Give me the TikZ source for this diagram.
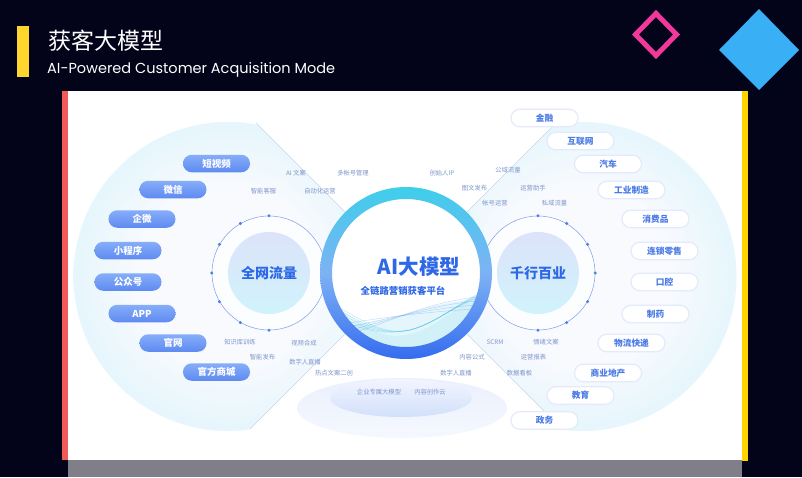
\documentclass[tikz,border=0pt]{standalone}
\usepackage{fontspec}
\setmainfont{Poppins}
\newfontfamily\cjk{Noto Sans CJK SC}

% Colours of the board
\definecolor{night}{HTML}{03031A}
\definecolor{baryellow}{HTML}{FFD62E}
\definecolor{edgeyellow}{HTML}{FFD500}
\definecolor{edgered}{HTML}{F25A5A}
\definecolor{rosepink}{HTML}{F2399B}
\definecolor{skyblue}{HTML}{39B0F6}
\definecolor{band}{HTML}{807F89}
\definecolor{halocore}{HTML}{F9FAFE}
\definecolor{haloedge}{HTML}{E5F6FC}
\definecolor{hintblue}{HTML}{7E95CB}
\definecolor{deepblue}{HTML}{2F68E6}
\definecolor{pillblue}{HTML}{4B7BE6}
\definecolor{pilltop}{HTML}{86ADF9}
\definecolor{pillbot}{HTML}{5E8BF1}
\definecolor{pillrim}{HTML}{E3EAFB}
\definecolor{dotblue}{HTML}{4D7EE8}
\definecolor{ringline}{HTML}{7F9DE6}
\definecolor{sidetop}{HTML}{DCE3FA}
\definecolor{sidebot}{HTML}{D0F3FB}
\definecolor{ringcyan}{HTML}{3FCEEA}
\definecolor{ringmid}{HTML}{7DB2F4}
\definecolor{ringblue}{HTML}{356CEF}
\definecolor{wavecyan}{HTML}{4CC8E6}
\definecolor{plateA}{HTML}{EAF0FD}
\definecolor{plateB}{HTML}{F5F8FE}
\definecolor{plateC}{HTML}{F2F5FE}
\definecolor{plateD}{HTML}{D2E0FB}
\definecolor{cutgray}{HTML}{CCD5EC}

\pgfdeclareradialshading{halo}{\pgfpoint{0bp}{0bp}}{color(0bp)=(halocore); color(14bp)=(halocore); color(25bp)=(haloedge); color(50bp)=(haloedge)}

\tikzset{
  headline/.style={anchor=west, inner sep=0pt, text=white, font=\cjk\fontsize{23}{23}\selectfont},
  subline/.style={anchor=west, inner sep=0pt, text=white, font=\fontsize{14.5}{15}\selectfont},
  hint/.style={inner sep=0pt, text=hintblue, font=\cjk\fontsize{6.3}{7}\selectfont},
  srcpill/.style={rectangle, rounded corners=8.7pt, minimum width=67pt, minimum height=17.5pt, inner sep=0pt,
    top color=pilltop, bottom color=pillbot, text=white, font=\cjk\bfseries\fontsize{9.5}{10}\selectfont},
  tradepill/.style={rectangle, rounded corners=8.7pt, minimum width=67pt, minimum height=17.5pt, inner sep=0pt,
    fill=white, draw=pillrim, line width=1.2pt, text=pillblue, font=\cjk\bfseries\fontsize{8.7}{9}\selectfont},
  sidering/.style={circle, minimum size=114pt, inner sep=0pt, draw=ringline, line width=0.5pt, fill=white, fill opacity=0.6},
  sidecore/.style={circle, minimum size=82pt, inner sep=0pt, top color=sidetop, bottom color=sidebot,
    text=deepblue, font=\cjk\bfseries\fontsize{14}{14}\selectfont},
  cutline/.style={cutgray, line width=0.4pt},
}

\begin{document}
\begin{tikzpicture}[x=1pt, y=-1pt]
  % Page and dark background
  \useasboundingbox (0,0) rectangle (802,477);
  \fill[night] (0,0) rectangle (802,477);

  % Title block
  \fill[baryellow] (17,26) rectangle (29,77);
  \node[headline] (title) at (48,41) {获客大模型};
  \node[subline] (subtitle) at (47,70) {AI-Powered Customer Acquisition Mode};

  % Corner diamonds
  \draw[rosepink, line width=5pt, miter limit=4] (656,13.5) -- (676.5,34.5) -- (656,55.5) -- (635.5,34.5) -- cycle;
  \fill[skyblue] (759,9) -- (799,50) -- (759,90) -- (719,50) -- cycle;

  % White board with coloured edges
  \fill[white] (68,91) rectangle (742,460);
  \fill[edgered] (62,91) rectangle (68,460);
  \fill[edgeyellow] (742,91) rectangle (748,461);
  \fill[band] (68,460) rectangle (742,477);

  % The hub itself, as a named circle
  \node[circle, minimum size=172pt, inner sep=0pt] (core) at (406,273) {};

  % Left and right lobes, cut by the diagonals through the hub
  \begin{scope}
    \clip (68,91) rectangle (742,460);
    \begin{scope}
      \clip (406,273) -- (106,-27) -- (-100,-27) -- (-100,573) -- (106,573) -- cycle;
      \shade[shading=halo] (228,276.5) circle (154.5);
    \end{scope}
    \begin{scope}
      \clip (406,273) -- (706,-27) -- (900,-27) -- (900,573) -- (706,573) -- cycle;
      \shade[shading=halo] (582,276.5) circle (154.5);
    \end{scope}
  \end{scope}

  % Diagonals from the hub out to the lobes
  \coordinate (cutNW) at (256,123);
  \coordinate (cutNE) at (556,123);
  \coordinate (cutSW) at (250,429);
  \coordinate (cutSE) at (562,429);
  \foreach \a/\c in {135/cutNW, 45/cutNE, 225/cutSW, 315/cutSE}
    \draw[cutline] (core.\a) -- (\c);

  % Base plates under the hub
  \shade[top color=plateA, bottom color=plateB] (402,408) ellipse (105 and 30);
  \shade[top color=plateC, bottom color=plateD] (401,398) ellipse (71 and 19);

  % Side hubs with their dotted rings
  \node[sidering] (flow) at (269,273) {};
  \node[sidering] (trade) at (538,273) {};
  \foreach \a in {90,120,...,270}
    \fill[dotblue] (flow.\a) circle (1.7);
  \foreach \a in {-90,-60,...,90}
    \fill[dotblue] (trade.\a) circle (1.7);
  \node[sidecore] (flowcore) at (269,273) {全网流量};
  \node[sidecore] (tradecore) at (538,273) {千行百业};

  % Hub ring
  \fill[white] (core.center) circle (80);
  \begin{scope}
    \clip (core.center) circle (75);
    % waves in the lower part
    \fill[wavecyan, opacity=0.12] (325,300) .. controls (360,320) and (375,340) .. (405,335)
      .. controls (440,330) and (455,300) .. (490,295) -- (490,360) -- (325,360) -- cycle;
    \fill[wavecyan, opacity=0.15] (325,322) .. controls (370,335) and (420,300) .. (490,298)
      -- (490,360) -- (325,360) -- cycle;
    \foreach \d in {0,3,...,12}
      \draw[wavecyan, opacity=0.45, line width=0.4pt] (325,{300+\d}) .. controls (360,{318+\d}) and (380,336) .. (410,330)
        .. controls (440,322) and (460,300) .. (490,{295-\d/2});
    \foreach \d in {0,4,...,12}
      \draw[wavecyan!60!blue, opacity=0.3, line width=0.4pt] (330,{338-\d}) .. controls (380,{330-\d}) and (420,{300+\d}) .. (490,{296+\d});
  \end{scope}
  \shade[top color=ringcyan, bottom color=ringblue, middle color=ringmid, even odd rule]
    (core.center) circle (86) (core.center) circle (74);
  \node[inner sep=0pt, text=deepblue, font=\cjk\bfseries\fontsize{20.5}{21}\selectfont] (hubname) at (419,267) {AI大模型};
  \node[inner sep=0pt, text=deepblue, font=\cjk\bfseries\fontsize{9.4}{10}\selectfont] (hubtag) at (403,291) {全链路营销获客平台};

  % Small feature labels around the hub
  \foreach \nm/\x/\y/\t in {aicopy/296/173/AI 文案, multiacct/353/173/多帐号管理, service/263.5/191/智能客服,
      autoops/320/191/自动化运营, founder/442/173/创始人IP, publicflow/508/170/公域流量,
      imgtext/474.5/188/图文发布, opsassist/533/188/运营助手, acctops/495/203/帐号运营,
      privflow/554.5/203/私域流量, kbtrain/240/342/知识库训练, smartpub/262.5/357/智能发布,
      videosyn/304/343/视频合成, avatarL/305/362/数字人直播, hotcopy/334/373/热点文案二创,
      formula/472/357/内容公式, scrm/495/342/SCRM, emocopy/546/342/情绪文案,
      opsreport/533.5/357/运营报表, avatarR/456/373/数字人直播, dashboard/519.5/373/数据看板,
      llm/379/392/企业专属大模型, cloud/430/392/内容创作云}
    \node[hint] (\nm) at (\x,\y) {\t};

  % Traffic channels on the left
  \foreach \nm/\x/\y/\t in {video/216.5/163.5/短视频, wechat/173/189.5/微信, wework/142/219/企微,
      mini/128/250.5/小程序, official/128/282/公众号, app/142/313.5/APP,
      site/173/343/官网, mall/216.5/372/官方商城}
    \node[srcpill] (src-\nm) at (\x,\y) {\t};

  % Industries on the right
  \foreach \nm/\x/\y/\t in {finance/544.5/118/金融, internet/580.5/141/互联网, auto/608/164/汽车,
      industry/631.5/190/工业制造, consumer/655.5/219/消费品, retail/664.5/251/连锁零售,
      dental/664.5/282/口腔, pharma/655.5/314/制药, logistics/631.5/343/物流快递,
      estate/608/373/商业地产, edu/580.5/395.5/教育, gov/544.5/420.5/政务}
    \node[tradepill] (ind-\nm) at (\x,\y) {\t};
\end{tikzpicture}
\end{document}
